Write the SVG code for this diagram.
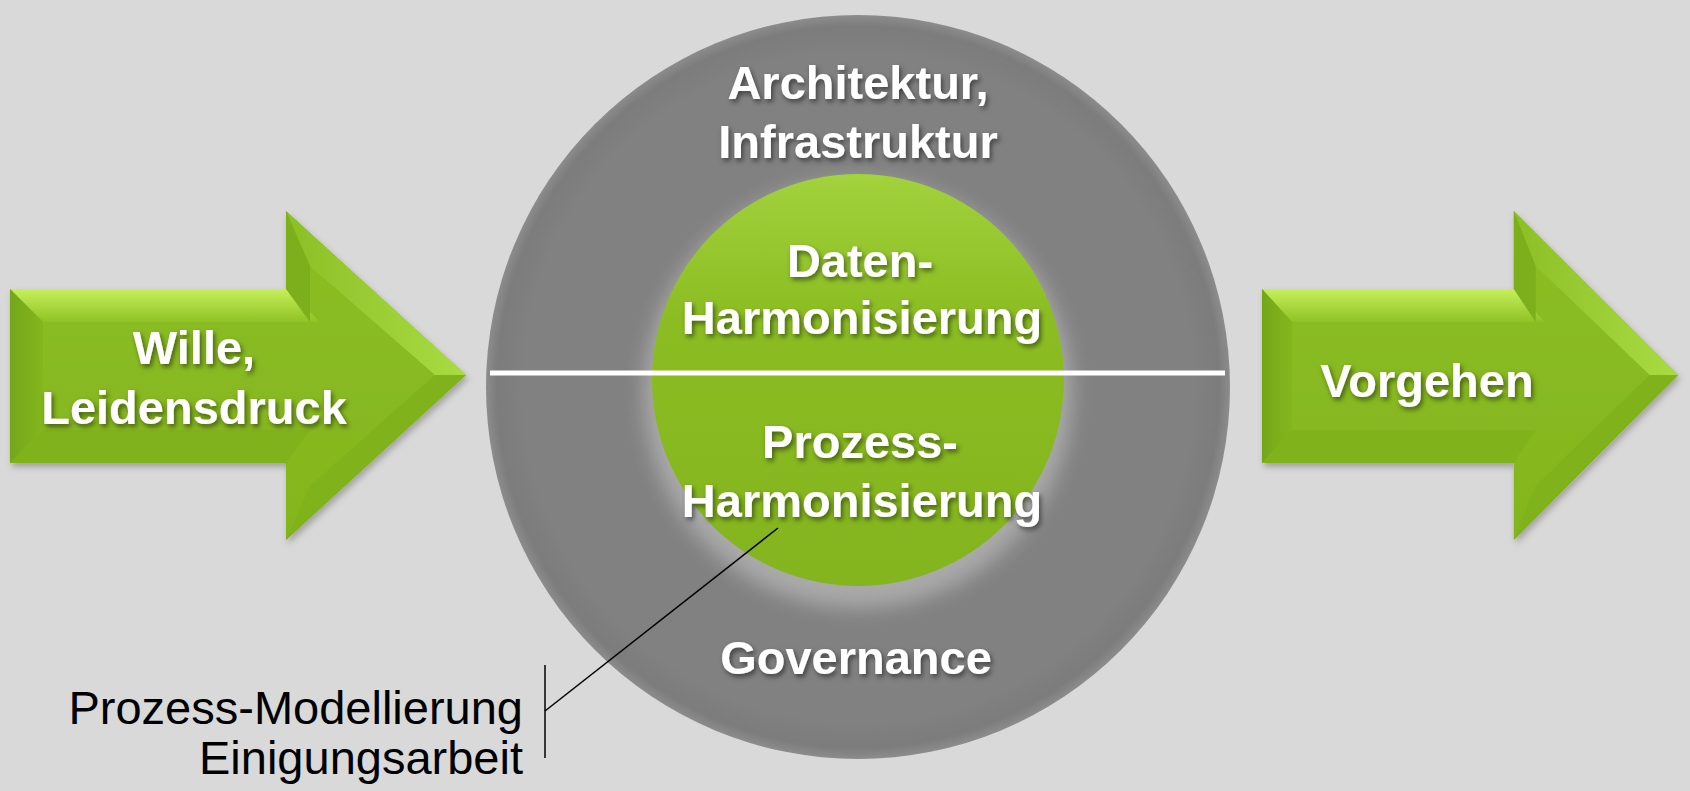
<svg xmlns="http://www.w3.org/2000/svg" width="1690" height="791" viewBox="0 0 1690 791">
<defs>
<style>
.t{font-family:"Liberation Sans",Arial,sans-serif;font-weight:bold;font-size:47px;fill:#fff;text-anchor:middle}
.ts{filter:url(#tsh)}
.a{font-family:"Liberation Sans",Arial,sans-serif;font-size:47px;fill:#000;text-anchor:end}
.ln{stroke:#000;stroke-width:1.5;fill:none}
</style>
<filter id="tsh" x="-10%" y="-30%" width="130%" height="180%">
<feDropShadow dx="2" dy="3" stdDeviation="2.5" flood-color="#000" flood-opacity="0.5"/>
</filter>
<filter id="ash" x="-10%" y="-10%" width="130%" height="130%">
<feDropShadow dx="2" dy="4" stdDeviation="3" flood-color="#000" flood-opacity="0.25"/>
</filter>
<filter id="blur" x="-20%" y="-20%" width="140%" height="140%">
<feGaussianBlur stdDeviation="10"/>
</filter>
<linearGradient id="ag" x1="0" y1="0" x2="0" y2="1">
<stop offset="0" stop-color="#8cbe23"/>
<stop offset="1" stop-color="#84b51e"/>
</linearGradient>
<linearGradient id="topb" x1="0" y1="0" x2="0" y2="1">
<stop offset="0" stop-color="#c6f05a"/>
<stop offset="1" stop-color="#8fc226"/>
</linearGradient>
<linearGradient id="headb" x1="0" y1="0" x2="1" y2="0">
<stop offset="0" stop-color="#8cbf26"/>
<stop offset="1" stop-color="#a9dc42"/>
</linearGradient>
<linearGradient id="leftb" x1="0" y1="0" x2="1" y2="0">
<stop offset="0" stop-color="#74a619"/>
<stop offset="1" stop-color="#84b61f"/>
</linearGradient>
<linearGradient id="gg" x1="0" y1="0" x2="0" y2="1">
<stop offset="0" stop-color="#a2d23c"/>
<stop offset="0.35" stop-color="#8bbd22"/>
<stop offset="1" stop-color="#84b41e"/>
</linearGradient>
<radialGradient id="ringg" cx="0.5" cy="0.5" r="0.5">
<stop offset="0.9" stop-color="#818181"/>
<stop offset="0.97" stop-color="#7c7c7c"/>
<stop offset="1" stop-color="#8c8c8c"/>
</radialGradient>
<symbol id="arrow" viewBox="0 0 456 330" preserveAspectRatio="none" overflow="visible">
<path d="M0 78 H276 V0 L456 164 L276 329 V252 H0 Z" fill="url(#ag)"/>
<path d="M0 78 H276 L310 111 H33 Z" fill="url(#topb)"/>
<path d="M0 78 L33 111 V219 L0 252 Z" fill="url(#leftb)"/>
<path d="M0 252 L33 219 H300 L276 252 Z" fill="#80b21c"/>
<path d="M276 0 L456 164 L425 164 L300 55 Z" fill="url(#headb)"/>
<path d="M276 0 L300 55 V111 L276 78 Z" fill="#7dae1b"/>
<path d="M456 164 L276 329 L300 275 L425 164 Z" fill="#80b21c"/>
</symbol>
</defs>
<rect width="1690" height="791" fill="#d9d9d9"/>
<g id="node-wille" filter="url(#ash)">
<use href="#arrow" x="10" y="211" width="456" height="330"/>
<text class="t ts" x="194" y="364">Wille,</text>
<text class="t ts" x="194" y="424">Leidensdruck</text>
</g>
<g id="node-vorgehen" filter="url(#ash)">
<use href="#arrow" x="1262" y="211" width="416" height="330"/>
<text class="t ts" x="1427" y="397">Vorgehen</text>
</g>
<g id="node-ring">
<circle cx="858" cy="387" r="372" fill="url(#ringg)"/>
<circle cx="858" cy="394" r="214" fill="#b4b4b4" opacity="0.8" filter="url(#blur)"/>
<text class="t ts" x="858" y="99">Architektur,</text>
<text class="t ts" x="858" y="158">Infrastruktur</text>
<text class="t ts" x="856" y="674">Governance</text>
</g>
<g id="node-inner">
<circle cx="858" cy="380" r="206" fill="url(#gg)"/>
<text class="t ts" x="860" y="277">Daten-</text>
<text class="t ts" x="862" y="334">Harmonisierung</text>
<text class="t ts" x="860" y="458">Prozess-</text>
<text class="t ts" x="862" y="517">Harmonisierung</text>
</g>
<g id="connectors">
<line x1="490" y1="373" x2="1225" y2="373" stroke="#fff" stroke-width="5"/>
<line class="ln" x1="545" y1="665" x2="545" y2="758"/>
<line class="ln" x1="545" y1="711" x2="778" y2="528"/>
</g>
<g id="node-annotation">
<text class="a" x="523" y="724">Prozess-Modellierung</text>
<text class="a" x="523" y="774">Einigungsarbeit</text>
</g>
</svg>
